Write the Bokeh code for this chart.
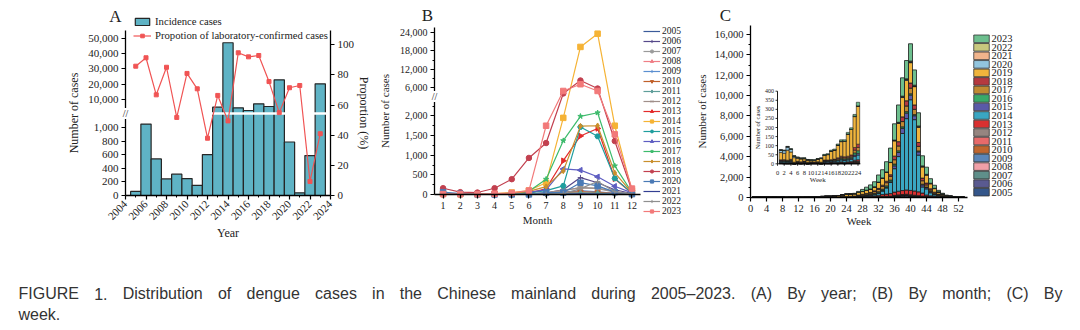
import numpy as np
from bokeh.plotting import figure
from bokeh.models import (Range1d, LinearAxis, FixedTicker, Legend, LegendItem,
                          Label, ColumnDataSource, NumeralTickFormatter)
from bokeh.layouts import row, column
from bokeh.embed import file_html
from bokeh.resources import INLINE
from bokeh.core.properties import value

SERIF = "Liberation Serif"

# ---------------- data ----------------
years = list(range(2005, 2024))
annual_cases = [60, 1055, 540, 245, 315, 250, 150, 605, 4950, 47200, 4550, 2800,
                7150, 5400, 22900, 790, 40, 590, 20300]
lab_confirmed_pct = [85.8, 91.4, 66.8, 85.1, 51.8, 81.0, 70.8, 38.0, 66.4, 49.5,
                     94.7, 92.0, 92.9, 75.6, 55.0, 71.5, 73.0, 9.3, 41.0]

months = list(range(1, 13))
m2005 = [2, 1, 1, 2, 3, 5, 8, 10, 12, 10, 4, 2]
m2006 = [3, 2, 2, 3, 5, 10, 40, 120, 430, 300, 120, 25]
m2007 = [3, 2, 2, 3, 5, 10, 30, 90, 180, 150, 60, 10]
m2008 = [3, 2, 2, 3, 5, 8, 15, 40, 70, 60, 35, 7]
m2009 = [3, 2, 3, 4, 5, 8, 20, 60, 100, 70, 30, 10]
m2010 = [3, 2, 2, 3, 5, 10, 20, 55, 70, 55, 25, 5]
m2011 = [3, 2, 2, 3, 4, 6, 12, 30, 45, 35, 15, 3]
m2012 = [5, 3, 3, 5, 8, 15, 40, 110, 170, 160, 80, 11]
m2013 = [5, 3, 3, 5, 10, 30, 150, 860, 1490, 1680, 400, 30]
m2014 = [20, 10, 10, 20, 50, 100, 300, 1950, 19300, 23600, 1750, 100]
m2015 = [10, 5, 5, 10, 20, 40, 100, 220, 1720, 1480, 410, 40]
m2016 = [10, 5, 5, 10, 25, 60, 120, 650, 620, 450, 210, 40]
m2017 = [10, 5, 5, 10, 30, 80, 390, 1370, 1990, 2080, 730, 50]
m2018 = [10, 5, 5, 10, 30, 80, 200, 600, 1740, 1750, 550, 50]
m2019 = [160, 60, 50, 160, 390, 930, 1310, 4200, 8400, 5800, 1360, 100]
m2020 = [60, 20, 5, 2, 2, 3, 50, 50, 300, 220, 60, 10]
m2021 = [1, 0, 0, 0, 0, 0, 2, 5, 15, 12, 4, 1]
m2022 = [2, 1, 1, 1, 2, 3, 5, 20, 150, 330, 70, 10]
m2023 = [10, 10, 10, 20, 40, 100, 1750, 5000, 7200, 5000, 1530, 150]

weeks = list(range(1, 54))
w2005 = [1,0,1,0, 0,0,1,0, 0,0,1,0,0, 0,1,0,1, 0,1,0,1,1, 1,1,2,1, 2,2,2,2, 2,2,2,2,2, 3,3,3,3, 2,2,2,2,2, 1,1,1,1, 1,0,1,0,0]
w2006 = [1,1,0,1, 0,1,0,1, 0,1,0,1,0, 1,0,1,1, 1,1,1,1,1, 2,2,3,3, 6,8,12,14, 15,20,25,28,32, 70,100,120,140, 110,90,70,50,35, 25,15,10,7, 5,4,3,2,1]
w2007 = [1,1,0,1, 0,1,0,1, 0,1,0,1,0, 1,0,1,1, 1,1,1,1,1, 2,2,3,3, 5,7,8,10, 12,15,18,20,25, 35,42,50,53, 45,38,30,22,15, 11,8,6,4, 3,2,2,1,1]
w2008 = [1,1,0,1, 0,1,0,1, 0,1,0,1,0, 1,0,1,1, 1,1,1,1,1, 2,2,2,2, 3,3,4,5, 6,7,8,9,10, 15,17,18,20, 16,14,12,10,8, 7,5,4,3, 2,2,1,1,0]
w2009 = [1,1,0,1, 0,1,0,1, 1,0,1,0,1, 1,1,1,1, 1,1,1,1,1, 2,2,2,2, 4,5,5,6, 9,11,12,13,15, 22,25,26,27, 20,17,14,11,8, 7,5,4,3, 2,2,1,1,1]
w2010 = [1,0,1,1, 0,1,0,1, 0,1,0,1,0, 1,0,1,1, 1,1,1,1,1, 2,2,3,3, 4,5,5,6, 9,10,11,12,13, 16,17,18,19, 16,13,11,9,6, 5,4,3,2, 2,1,1,1,0]
w2011 = [1,0,1,1, 0,1,0,1, 0,1,0,1,0, 1,0,1,1, 1,1,0,1,1, 1,1,2,2, 2,3,3,4, 5,6,6,6,7, 10,11,12,12, 10,8,7,6,4, 3,3,2,2, 1,1,1,0,0]
w2012 = [1,1,2,1, 1,1,0,1, 1,0,1,0,1, 1,1,2,1, 1,2,1,2,2, 3,4,4,4, 7,9,11,13, 16,20,22,25,27, 38,42,44,46, 45,40,33,25,17, 14,11,8,6, 4,3,2,1,1]
w2013 = [1,1,2,1, 1,1,0,1, 1,0,1,0,1, 1,1,2,1, 1,2,2,2,3, 5,7,8,10, 20,30,45,55, 80,130,180,220,250, 320,360,390,420, 430,420,380,300,150, 90,60,40,25, 12,8,5,3,2]
w2014 = [5,5,5,5, 3,2,2,3, 2,2,2,2,2, 5,5,5,5, 8,10,10,10,12, 20,25,25,30, 50,60,80,110, 120,200,350,600,1100, 2300,3400,5600,7000, 8900,7000,3600,600,600, 300,150,80,40, 25,15,12,8,5]
w2015 = [2,3,2,3, 1,1,2,1, 1,1,1,1,1, 2,3,2,3, 3,4,4,4,5, 8,10,10,12, 18,22,28,32, 30,35,45,50,60, 280,400,500,540, 450,380,320,200,130, 90,60,40,25, 15,10,8,5,2]
w2016 = [2,3,2,3, 1,1,2,1, 1,1,1,1,1, 2,3,2,3, 4,5,5,5,6, 12,14,16,18, 22,28,32,38, 90,110,130,150,170, 170,160,150,140, 130,110,90,70,50, 40,30,25,20, 15,10,8,5,2]
w2017 = [2,3,2,3, 1,1,2,1, 1,1,1,1,1, 2,3,2,3, 5,6,6,6,7, 15,18,22,25, 60,85,110,135, 180,230,280,320,360, 430,480,520,560, 560,520,450,340,210, 140,90,60,35, 20,12,8,6,4]
w2018 = [2,3,2,3, 1,1,2,1, 1,1,1,1,1, 2,3,2,3, 5,6,6,6,7, 15,18,22,25, 35,45,55,65, 80,100,120,140,160, 350,420,460,510, 500,430,380,260,180, 120,80,50,30, 20,12,8,6,4]
w2019 = [40,35,55,40, 25,15,15,12, 12,8,8,15,20, 25,30,45,50, 70,80,85,120,140, 170,210,220,230, 250,270,300,320, 380,600,700,900,1200, 1500,1800,1900,2000, 2000,1800,1500,1100,800, 500,350,200,120, 60,40,25,15,5]
w2020 = [12,15,18,15, 8,5,4,3, 1,1,1,1,1, 1,0,1,0, 0,1,0,1,0, 1,1,0,1, 8,10,14,18, 8,10,10,11,11, 50,70,85,95, 70,55,45,30,20, 15,10,7,5, 4,2,2,1,1]
w2021 = [1,0,0,0, 0,0,0,0, 0,0,0,0,0, 0,0,0,0, 0,0,0,0,0, 0,0,0,0, 0,1,0,1, 1,1,1,1,1, 3,4,4,4, 3,3,2,2,2, 1,1,1,1, 1,0,0,0,0]
w2022 = [1,0,1,0, 0,1,0,0, 0,0,1,0,0, 0,0,1,0, 0,1,0,1,0, 1,0,1,1, 1,1,1,2, 2,3,4,5,6, 20,30,45,55, 80,80,70,60,40, 30,20,12,8, 4,3,2,1,0]
w2023 = [2,3,2,3, 2,3,2,3, 2,2,2,2,2, 5,5,5,5, 6,8,8,9,9, 10,20,30,40, 100,200,300,400, 500,700,800,1000,1400, 1600,1700,1800,1800, 1700,1500,1300,1000,700, 450,300,150,80, 40,20,10,5,3]

monthly = [m2005, m2006, m2007, m2008, m2009, m2010, m2011, m2012, m2013, m2014,
           m2015, m2016, m2017, m2018, m2019, m2020, m2021, m2022, m2023]
weekly = [w2005, w2006, w2007, w2008, w2009, w2010, w2011, w2012, w2013, w2014,
          w2015, w2016, w2017, w2018, w2019, w2020, w2021, w2022, w2023]

caption_line1 = ("FIGURE 1. Distribution of dengue cases in the Chinese mainland during "
                 "2005\u20132023. (A) By year; (B) By month; (C) By")
caption_line2 = "week."

# ---------------- styles ----------------
line_colors = ["#3b5b9a", "#56498a", "#9a9a9a", "#ef7f86", "#5b8fd0", "#c0602a",
               "#5f9e9a", "#a08f8a", "#e32b2b", "#f5b335", "#1f9e9e", "#5e5ec2",
               "#3dbb6c", "#c98f2c", "#c2404f", "#4a7ab5", "#333f92", "#8f8f8f", "#f27a7a"]
line_markers = [None, "cross", "circle", "triangle", "cross", "inverted_triangle",
                "diamond", "x", "triangle", "square", "hex", "triangle", "star",
                "diamond", "circle", "square", None, "cross", "square"]
marker_angles = [0, 0, 0, 0, 0, 0, 0, 0, -np.pi / 2, 0, 0, np.pi / 2, 0, 0, 0, 0, 0, 0, 0]
bar_colors = ["#34568a", "#5a5a90", "#5f8f8a", "#f0a0a8", "#5b86b8", "#c0662e",
              "#e86a6a", "#968580", "#d93030", "#3aa6c2", "#5a5aa8", "#3aaa6a",
              "#c08a32", "#b5393f", "#f0b43c", "#92c5de", "#f0b48c", "#c8c87e", "#6dbf8e"]
TXT = "#222222"
ROW_H = 262


def base_fig(w, xr, yr):
    p = figure(width=w, height=ROW_H, x_range=xr, y_range=yr, output_backend="svg",
               toolbar_location=None, min_border=0)
    p.outline_line_color = None
    p.xgrid.visible = False
    p.ygrid.visible = False
    return p


def style_axis(ax, tick_size, label_size, label_standoff=3):
    ax.axis_line_color = "black"
    ax.axis_line_width = 1.3
    ax.major_tick_line_color = "black"
    ax.major_tick_line_width = 1.2
    ax.major_tick_out = 4
    ax.major_tick_in = 0
    ax.minor_tick_line_color = "black"
    ax.minor_tick_out = 2
    ax.minor_tick_in = 0
    ax.major_label_text_font = SERIF
    ax.major_label_text_font_size = tick_size
    ax.major_label_text_color = TXT
    ax.major_label_standoff = 3
    ax.axis_label_text_font = SERIF
    ax.axis_label_text_font_style = "normal"
    ax.axis_label_text_font_size = label_size
    ax.axis_label_text_color = TXT
    ax.axis_label_standoff = label_standoff


def panel_letter(p, text, x, y):
    p.add_layout(Label(x=x, y=y, x_units="screen", y_units="screen", text=text,
                       text_font=SERIF, text_font_size="17px", text_align="center",
                       text_baseline="middle", text_color=TXT))


def break_mark(p, x, y):
    p.add_layout(Label(x=x, y=y, text="//", text_font=SERIF, text_font_size="10px",
                       text_align="center", text_baseline="middle",
                       background_fill_color="white", text_color="#111111"))


def style_legend(leg, size, gw, gh, standoff, spacing=0):
    leg.label_text_font = SERIF
    leg.label_text_font_size = size
    leg.label_text_color = TXT
    leg.glyph_width = gw
    leg.glyph_height = gh
    leg.label_height = gh
    leg.spacing = spacing
    leg.padding = 0
    leg.margin = 0
    leg.label_standoff = standoff
    leg.border_line_color = None
    leg.background_fill_alpha = 0


# ================= Panel A (figure spans x 0..370) =================
A_X0_PX, A_PPY = 125, 10.25           # year 2004 at px 125
A_BASE = 195                          # display 0 at px 195 (display unit = 1 px)


def disp_a(v):
    v = np.asarray(v, dtype=float)
    return np.where(v <= 1180, v * 0.0677, 84 + (v - 2131) * 0.001525)


pA = base_fig(370, Range1d(2004 - A_X0_PX / A_PPY, 2004 + (370 - A_X0_PX) / A_PPY),
              Range1d(A_BASE - ROW_H, A_BASE))
a_ticks = [0, 200, 400, 600, 800, 1000, 10000, 20000, 30000, 40000, 50000]
a_pos = [round(float(disp_a(t)), 4) for t in a_ticks]
pA.yaxis.ticker = FixedTicker(ticks=a_pos)
pA.yaxis.major_label_overrides = {pos: f"{t:,}" for pos, t in zip(a_pos, a_ticks)}
pA.yaxis.axis_label = "Number of cases"
pA.yaxis.fixed_location = 2004
pA.yaxis.bounds = (0, 165)
style_axis(pA.yaxis[0], "11px", "12px", 4)
pA.xaxis.ticker = FixedTicker(ticks=list(range(2004, 2025, 2)),
                              minor_ticks=list(range(2005, 2024, 2)))
pA.xaxis.major_label_orientation = np.pi / 4
pA.xaxis.axis_label = "Year"
pA.xaxis.fixed_location = 0
pA.xaxis.bounds = (2004, 2024)
style_axis(pA.xaxis[0], "11px", "12px", 0)

PCT_PPU = 1.507
pA.extra_y_ranges = {"prop": Range1d((A_BASE - ROW_H) / PCT_PPU, A_BASE / PCT_PPU)}
ax_r = LinearAxis(y_range_name="prop", ticker=FixedTicker(ticks=[0, 20, 40, 60, 80, 100]),
                  axis_label="Proportion (%)", fixed_location=2024, bounds=(0, 109.5))
style_axis(ax_r, "11px", "12px", 0)
pA.add_layout(ax_r, "right")

srcA = ColumnDataSource(dict(year=years, top=disp_a(annual_cases),
                             pct=lab_confirmed_pct))
barsA = pA.vbar(x="year", top="top", width=1, source=srcA, fill_color="#5fb3c5",
                line_color="#262626", line_width=1.2)
# white axis-break band across the bars
pA.segment(x0=[2004.6], x1=[2023.6], y0=[82], y1=[82], line_color="white", line_width=2.5)
lineA = pA.line(x="year", y="pct", source=srcA, y_range_name="prop",
                line_color="#f05454", line_width=1.2)
ptsA = pA.scatter(x="year", y="pct", source=srcA, y_range_name="prop", marker="square",
                  size=4, fill_color="#f05454", line_color="#f05454")
break_mark(pA, 2004, 82)
legA = Legend(items=[LegendItem(label="Incidence cases", renderers=[barsA]),
                     LegendItem(label="Propotion of laboratory-confirmed cases",
                                renderers=[lineA, ptsA])],
              location=(133, ROW_H - 41))
style_legend(legA, "10.7px", 18, 9, 4, 2)
pA.add_layout(legA)
panel_letter(pA, "A", 115, ROW_H - 16)

# ================= Panel B (figure spans x 370..695) =================
B_LEFT = 370
B_X0_PX, B_PPM = 434 - B_LEFT, 17.17  # month 0.5 at px 434
B_BASE = 194


def disp_b(v):
    v = np.asarray(v, dtype=float)
    return np.where(v <= 2450, v * 0.0393, 106.6 + (v - 6000) * 0.00308)


pB = base_fig(325, Range1d(0.5 - B_X0_PX / B_PPM, 0.5 + (325 - B_X0_PX) / B_PPM),
              Range1d(B_BASE - ROW_H, B_BASE))
b_ticks = [0, 500, 1000, 1500, 2000, 6000, 12000, 18000, 24000]
b_minor = [250, 750, 1250, 1750, 2250, 9000, 15000, 21000]
b_pos = [round(float(disp_b(t)), 4) for t in b_ticks]
pB.yaxis.ticker = FixedTicker(ticks=b_pos,
                              minor_ticks=[round(float(disp_b(t)), 4) for t in b_minor])
pB.yaxis.major_label_overrides = {pos: f"{t:,}" for pos, t in zip(b_pos, b_ticks)}
pB.yaxis.axis_label = "Number of cases"
pB.yaxis.fixed_location = 0.5
pB.yaxis.bounds = (0, 167)
style_axis(pB.yaxis[0], "10px", "11px", 6)
pB.xaxis.ticker = FixedTicker(ticks=months)
pB.xaxis.axis_label = "Month"
pB.xaxis.fixed_location = 0
pB.xaxis.bounds = (0.5, 12.5)
style_axis(pB.xaxis[0], "10px", "11px", 2)

itemsB = []
for yr, vals, col, mk, ang in zip(years, monthly, line_colors, line_markers, marker_angles):
    src = ColumnDataSource(dict(month=months, y=disp_b(vals)))
    rs = [pB.line(x="month", y="y", source=src, line_color=col, line_width=1.2)]
    if mk is not None:
        rs.append(pB.scatter(x="month", y="y", source=src, marker=mk, size=5.5, angle=ang,
                             fill_color=col, line_color=col, line_width=1))
    itemsB.append(LegendItem(label=str(yr), renderers=rs))
break_mark(pB, 0.5, 98)
legB = Legend(items=itemsB, location=(643 - B_LEFT, ROW_H - 216))
style_legend(legB, "9.5px", 17, 8, 2, 0)
pB.add_layout(legB)
panel_letter(pB, "B", 427 - B_LEFT, ROW_H - 15)

# ================= Panel C (figure spans x 695..1080) =================
C_LEFT = 695
C_X0_PX, C_PPW = 750 - C_LEFT, 4.0    # week 0 at px 750
C_BASE, C_PPC = 197, 0.01019
pC = base_fig(385, Range1d(-C_X0_PX / C_PPW, (385 - C_X0_PX) / C_PPW),
              Range1d((C_BASE - ROW_H) / C_PPC, C_BASE / C_PPC))
pC.yaxis.ticker = FixedTicker(ticks=list(range(0, 16001, 2000)),
                              minor_ticks=list(range(1000, 17000, 2000)))
pC.yaxis.formatter = NumeralTickFormatter(format="0,0")
pC.yaxis.axis_label = "Number of cases"
pC.yaxis.fixed_location = 0
pC.yaxis.bounds = (0, 172 / C_PPC)
style_axis(pC.yaxis[0], "10.5px", "11px", 4)
pC.xaxis.ticker = FixedTicker(ticks=list(range(0, 53, 4)))
pC.xaxis.axis_label = "Week"
pC.xaxis.fixed_location = 0
pC.xaxis.bounds = (0, 54.3)
style_axis(pC.xaxis[0], "10.5px", "11px", 0)

names = [str(y) for y in years]
dataC = {"week": weeks}
for n, w in zip(names, weekly):
    dataC[n] = w
srcC = ColumnDataSource(dataC)
barsC = pC.vbar_stack(names, x="week", width=1, source=srcC, fill_color=bar_colors,
                      line_color="#1c1c1c", line_width=0.8)

# inset (weeks 1-24) drawn on extra ranges
IN_X0, IN_PPW = 777 - C_LEFT, 3.354   # inset week 0 at px 777
IN_Y0, IN_PPC = 163.3, 0.1815         # inset 0 cases at px 163.3
pC.extra_x_ranges = {"ix": Range1d(-IN_X0 / IN_PPW, (385 - IN_X0) / IN_PPW),
                     "px": Range1d(C_LEFT, C_LEFT + 385)}
pC.extra_y_ranges = {"iy": Range1d((IN_Y0 - ROW_H) / IN_PPC, IN_Y0 / IN_PPC),
                     "py": Range1d(ROW_H, 0)}
dataI = {"week": weeks[:24]}
for n, w in zip(names, weekly):
    dataI[n] = w[:24]
srcI = ColumnDataSource(dataI)
pC.vbar_stack(names, x="week", width=1, source=srcI, fill_color=bar_colors,
              line_color="#1c1c1c", line_width=0.6, x_range_name="ix", y_range_name="iy")
in_xt = list(range(0, 25, 2))
in_yt = list(range(0, 401, 50))
tx = 2 / IN_PPW
ty = 2 / IN_PPC
kw_in = dict(x_range_name="ix", y_range_name="iy")
pC.segment(x0=[0, 0], y0=[0, 0], x1=[0, 24.7], y1=[400, 0], line_color="black",
           line_width=0.9, **kw_in)
pC.segment(x0=in_xt, x1=in_xt, y0=[0] * len(in_xt), y1=[-ty] * len(in_xt),
           line_color="black", line_width=0.8, **kw_in)
pC.segment(x0=[0] * len(in_yt), x1=[-tx] * len(in_yt), y0=in_yt, y1=in_yt,
           line_color="black", line_width=0.8, **kw_in)
pC.text(x=in_xt, y=[-3.5 * ty] * len(in_xt), text=[str(t) for t in in_xt],
        text_font=value(SERIF), text_font_size="6.5px", text_align="center",
        text_baseline="top", text_color=TXT, **kw_in)
pC.text(x=[-1.7 * tx] * len(in_yt), y=in_yt, text=[str(t) for t in in_yt],
        text_font=value(SERIF), text_font_size="6px", text_align="right",
        text_baseline="middle", text_color=TXT, **kw_in)
pC.text(x=[-20 / IN_PPW], y=[200], text=["Number of cases"], angle=np.pi / 2,
        text_font=value(SERIF), text_font_size="6.5px", text_align="center",
        text_baseline="middle", text_color=TXT, **kw_in)
pC.text(x=[12], y=[-16 / IN_PPC], text=["Week"], text_font=value(SERIF),
        text_font_size="7px", text_align="center", text_baseline="middle",
        text_color=TXT, **kw_in)

# compact legend for panel C (2023 on top), laid out in page pixels
LEG_C_X, LEG_C_TOP, LEG_C_STEP = 981, 38.3, 8.52
leg_names = names[::-1]
leg_cols = bar_colors[::-1]
leg_y = [LEG_C_TOP + LEG_C_STEP * i for i in range(len(leg_names))]
kw_px = dict(x_range_name="px", y_range_name="py")
pC.rect(x=[LEG_C_X] * len(leg_names), y=leg_y, width=15.5, height=7.6,
        fill_color=leg_cols, line_color="#333333", line_width=0.8, **kw_px)
pC.text(x=[LEG_C_X + 10] * len(leg_names), y=leg_y, text=leg_names,
        text_font=value(SERIF), text_font_size="10.5px", text_align="left",
        text_baseline="middle", text_color=TXT, **kw_px)
panel_letter(pC, "C", 725 - C_LEFT, ROW_H - 15)

# ================= Caption (justified first line) =================
ARIAL_W = {" ": 278, "F": 611, "I": 278, "G": 778, "U": 722, "R": 722, "E": 667,
           "1": 556, ".": 278, "D": 722, "i": 222, "s": 500, "t": 278, "r": 333,
           "b": 556, "u": 556, "o": 556, "n": 556, "f": 278, "d": 556, "e": 556,
           "g": 556, "c": 500, "a": 556, "h": 556, "C": 722, "m": 833, "l": 222,
           "2": 556, "0": 556, "5": 556, "3": 556, "\u2013": 556, "(": 333, ")": 333,
           "A": 667, "B": 667, "y": 500, ";": 278, "k": 500, "w": 722}
CAP_SIZE = 16
CAP_L, CAP_R = 18, 1062


def text_w(s):
    return sum(ARIAL_W.get(ch, 556) for ch in s) * CAP_SIZE / 1000.0


words = caption_line1.split(" ")
widths = [text_w(w) for w in words]
gap = (CAP_R - CAP_L - sum(widths)) / (len(words) - 1)
xs, cur = [], CAP_L
for wd in widths:
    xs.append(cur)
    cur += wd + gap

pCap = figure(width=1080, height=68, x_range=Range1d(0, 1080), y_range=Range1d(330, 262),
              output_backend="svg", toolbar_location=None, x_axis_type=None,
              y_axis_type=None, min_border=0)
pCap.outline_line_color = None
pCap.xgrid.visible = False
pCap.ygrid.visible = False
pCap.text(x=xs + [CAP_L], y=[293] * len(words) + [314], text=words + [caption_line2],
          text_font=value("Liberation Sans"), text_font_size=f"{CAP_SIZE}px",
          text_align="left", text_baseline="alphabetic", text_color="#333333")

layout = column(row(pA, pB, pC), pCap)
open("out.html", "w").write(file_html(layout, INLINE))
